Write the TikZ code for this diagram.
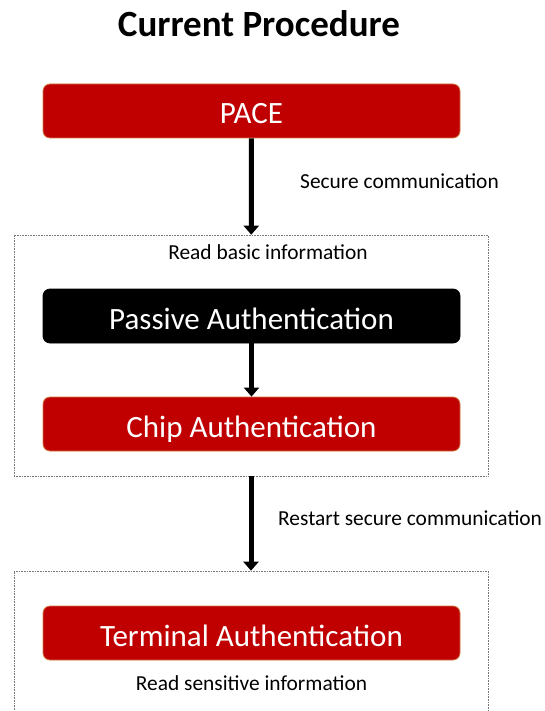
\documentclass[tikz,border=0pt]{standalone}
\usepackage{fontspec}
\setmainfont{Carlito}
\usepackage{tikz}
\usetikzlibrary{arrows.meta,positioning}
\usepackage{xcolor}
\definecolor{boxred}{RGB}{192,0,0}
\definecolor{boxedge}{RGB}{205,120,60}
\definecolor{groupedge}{RGB}{120,120,120}

\begin{document}
\begin{tikzpicture}[
        x=1pt, y=1pt,
        node distance=205pt,
        redbox/.style={rectangle, draw=boxedge, line width=0.8pt, fill=boxred, text=white, rounded corners=7pt, minimum width=417pt, minimum height=54pt, text height=26pt, text depth=0pt, font=\fontsize{31}{34}\selectfont},
        blackbox/.style={redbox, draw=black, fill=black},
        groupbox/.style={rectangle, draw=groupedge, densely dotted, line width=0.6pt, minimum width=474pt},
        label/.style={font=\fontsize{21.4}{24}\selectfont, inner sep=0pt},
        line/.style={draw, line width=5pt, -{Triangle[length=9pt, width=15pt]}}
    ]
    \useasboundingbox (0,0) rectangle (545,-711);
    \node [font=\fontsize{37}{40}\selectfont\bfseries] (title) at (259,-24) {Current Procedure};
    \node [redbox] (pace) at (251.5,-111) {PACE};
    \node [blackbox, below of=pace] (passive) {Passive Authentication};
    \node [redbox, below of=passive, node distance=108pt] (chip) {Chip Authentication};
    \node [redbox, below of=chip, node distance=209pt] (terminal) {Terminal Authentication};
    \node [groupbox, minimum height=241pt] (basic) at (251,-355.5) {};
    \node [groupbox, minimum height=160pt] (sensitive) at (251,-651) {};
    \node [label] (basiclbl) at (268,-252) {Read basic information};
    \node [label, below of=terminal, node distance=50pt] (sensitivelbl) {Read sensitive information};
    \node [label, anchor=west] (securelbl) at (300,-181) {Secure communication};
    \node [label, anchor=west] (restartlbl) at (278,-518) {Restart secure communication};
    \path [line] (pace) -- (basic);
    \path [line] (passive) -- (chip);
    \path [line] (basic) -- (sensitive);
    \end{tikzpicture}
\end{document}
